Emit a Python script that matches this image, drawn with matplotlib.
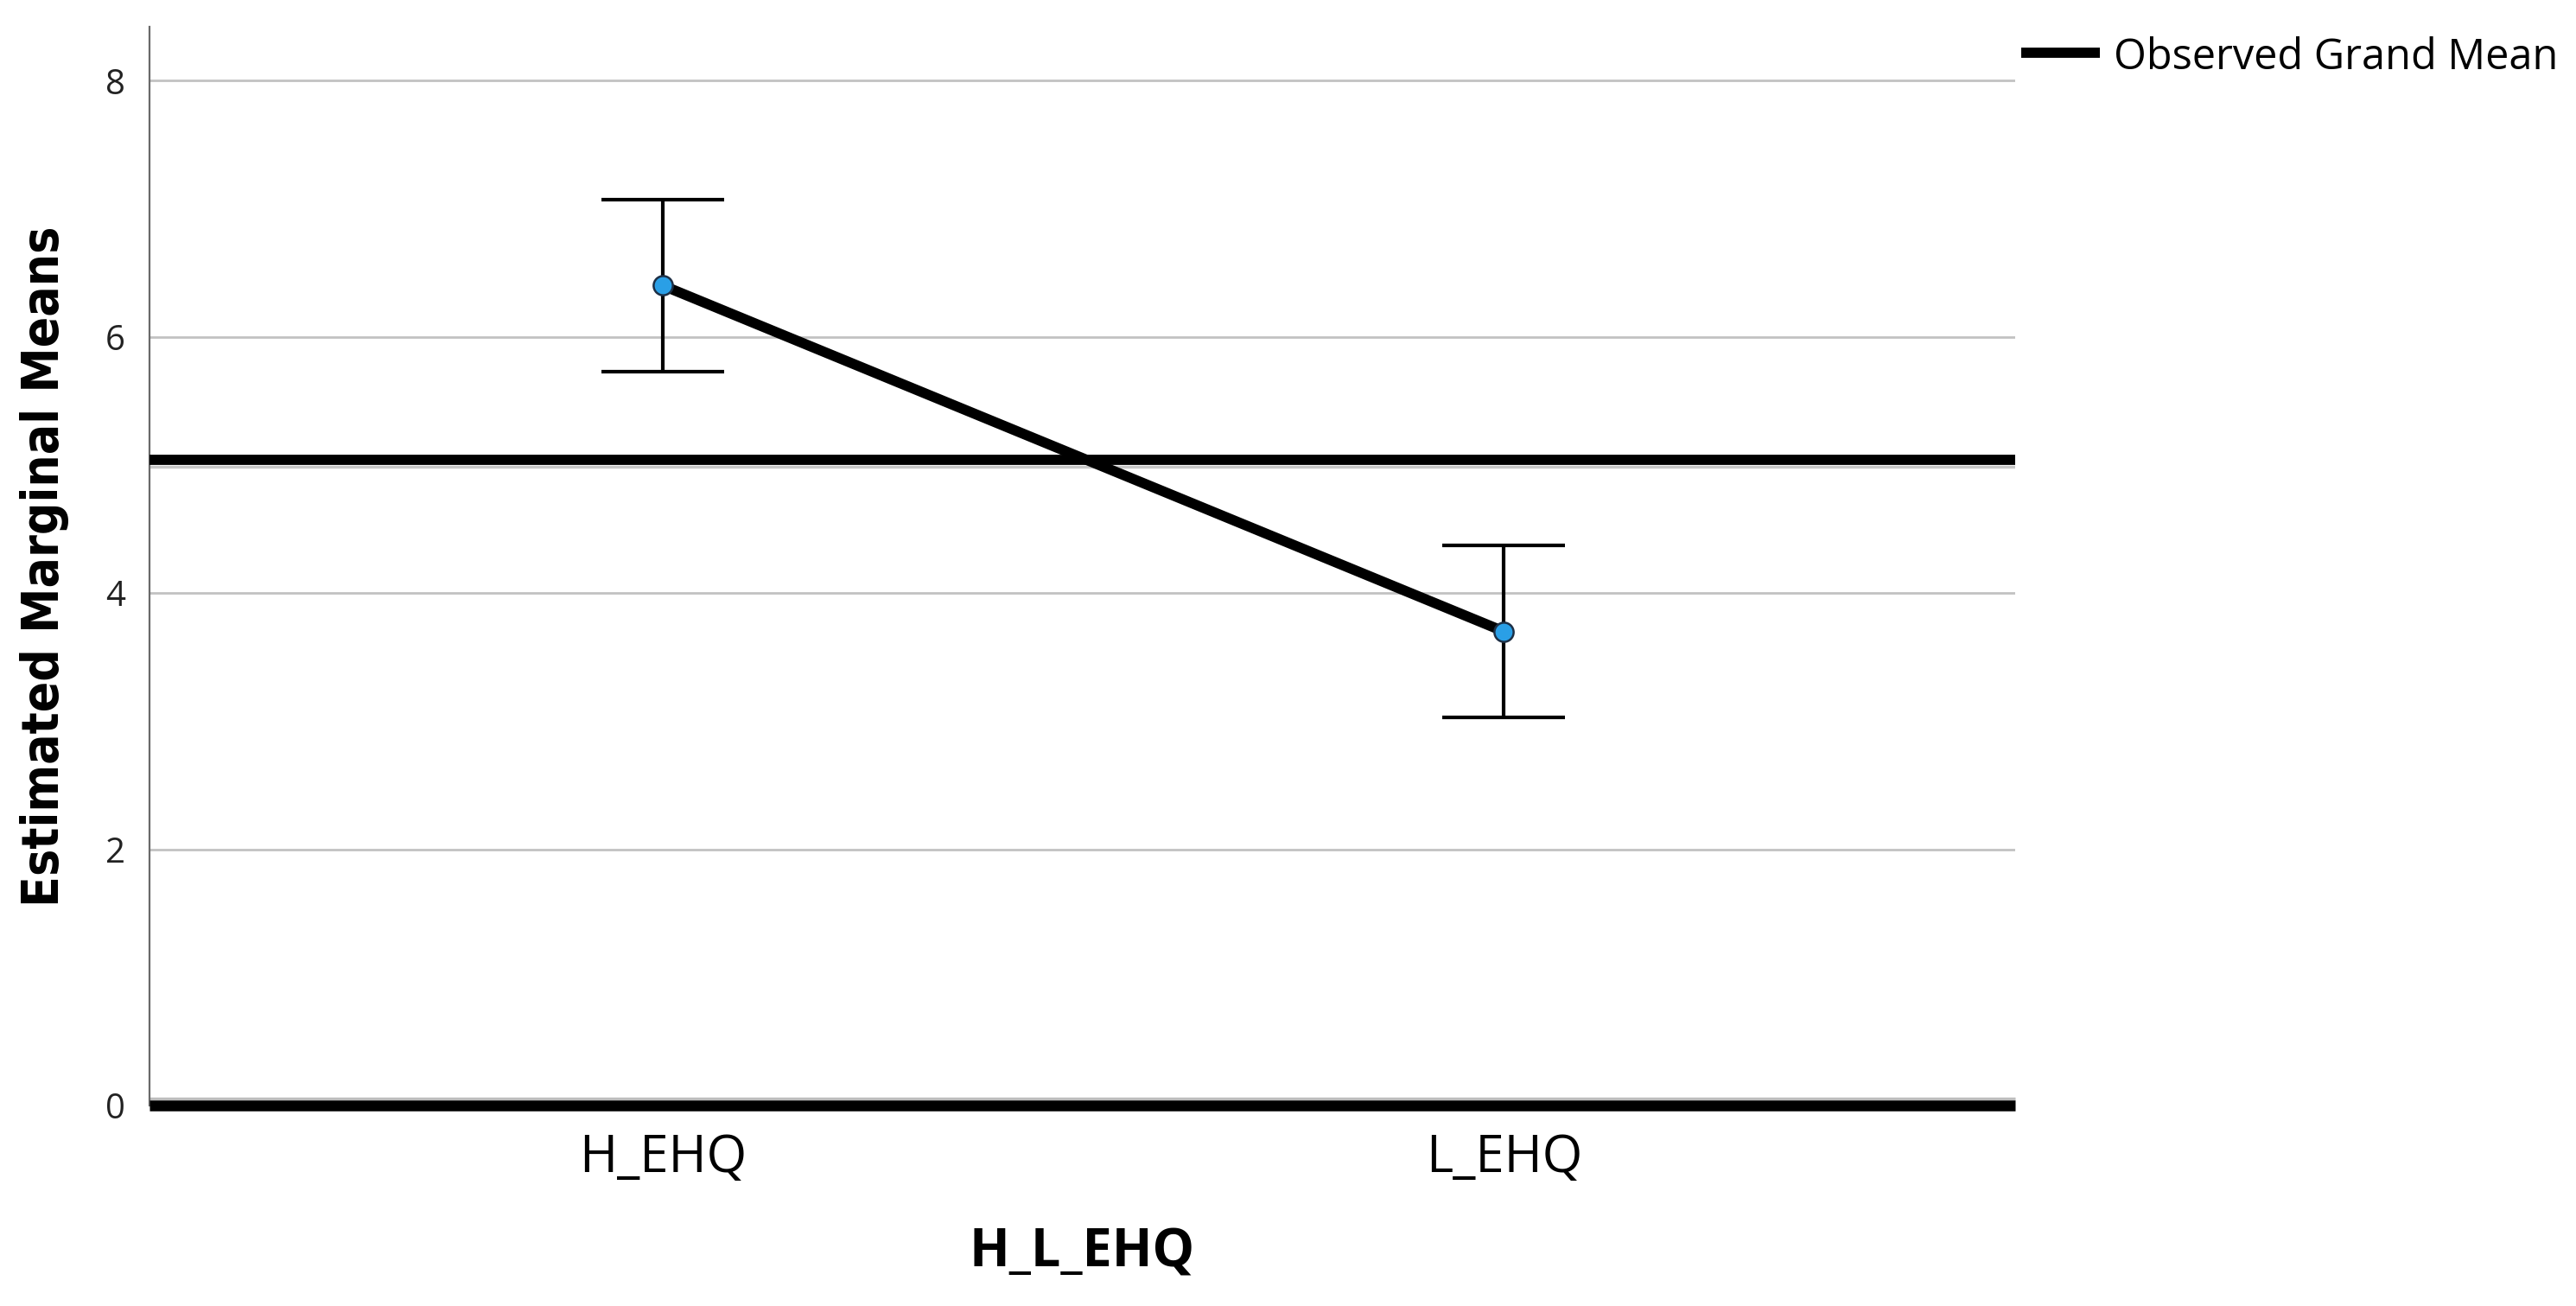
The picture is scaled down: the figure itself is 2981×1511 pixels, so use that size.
import matplotlib
matplotlib.use("Agg")
import matplotlib.pyplot as plt
import matplotlib.transforms as mtransforms
import numpy as np

# ---- data ----
categories = ["H_EHQ", "L_EHQ"]
means = [6.40, 3.70]
upper = [7.07, 4.37]
lower = [5.73, 3.03]
grand_mean = 5.04
yticks = [0, 2, 4, 6, 8]

plt.rcParams['font.family'] = ['Open Sans', 'DejaVu Sans']

fig = plt.figure(figsize=(29.81, 15.11), dpi=100)
ax = fig.add_axes([173/2981, 1 - 1279/1511, (2332 - 173)/2981, (1279 - 31)/1511])

x = np.arange(len(categories))
means_a = np.array(means)
yerr = np.vstack([means_a - np.array(lower), np.array(upper) - means_a])

ax.set_xlim(-0.6105, 1.608)
ax.set_ylim(0, 8.42)

# gridlines
for t in yticks:
    ax.axhline(t, color='#c2c2c2', lw=2.0, zorder=1)

# shadows beside thick reference lines
shadow_up = mtransforms.offset_copy(ax.transData, fig=fig, x=0, y=8, units='dots')
shadow_dn = mtransforms.offset_copy(ax.transData, fig=fig, x=0, y=-8, units='dots')
ax.plot([-0.6105, 1.608], [0, 0], color='#bdbdbd', lw=2.5, transform=shadow_up,
        zorder=2, clip_on=False, solid_capstyle='butt')
ax.plot([-0.6105, 1.608], [grand_mean, grand_mean], color='#c8c8c8', lw=2.5,
        transform=shadow_dn, zorder=2, solid_capstyle='butt')

# grand mean and zero lines
ax.axhline(grand_mean, color='black', lw=8.5, zorder=3, solid_capstyle='butt')
ax.axhline(0, color='black', lw=9.0, zorder=3, clip_on=False, solid_capstyle='butt')

# error bars
ax.errorbar(x, means_a, yerr=yerr, fmt='none', ecolor='black', elinewidth=3.0,
            capsize=51, capthick=3.0, zorder=4)
# connecting line
ax.plot(x, means_a, color='black', lw=8.5, zorder=5, solid_capstyle='round')
# markers
ax.plot(x, means_a, 'o', ms=16, mfc='#2a9fe6', mec='#1d2f45', mew=1.8, zorder=6)

# spines
for s in ['top', 'right', 'bottom']:
    ax.spines[s].set_visible(False)
ax.spines['left'].set_color('#6a6a6a')
ax.spines['left'].set_linewidth(1.6)

ax.set_yticks(yticks)
ax.set_yticklabels([str(t) for t in yticks])
ax.set_xticks(x)
ax.set_xticklabels(categories)
ax.tick_params(axis='y', length=0, pad=20, labelsize=29, labelcolor='#222222')
ax.tick_params(axis='x', length=0, pad=22, labelsize=43, labelcolor='black')

ax.set_xlabel("H_L_EHQ", fontsize=44, fontweight='bold', labelpad=36)
ax.set_ylabel("Estimated Marginal Means", fontsize=42, fontweight='bold',
              family=['DejaVu Sans'], fontstretch='condensed')
ax.yaxis.set_label_coords((80 - 173) / 2159, 0.5)

# legend
fig.lines.append(plt.Line2D([2339/2981, 2430/2981], [1 - 61/1511, 1 - 61/1511],
                            color='black', lw=8.5, transform=fig.transFigure,
                            solid_capstyle='butt'))
fig.text(2446/2981, 1 - 80/1511, "Observed Grand Mean", fontsize=35,
         va='baseline', ha='left', color='black')

fig.savefig("out.png", dpi=100)
